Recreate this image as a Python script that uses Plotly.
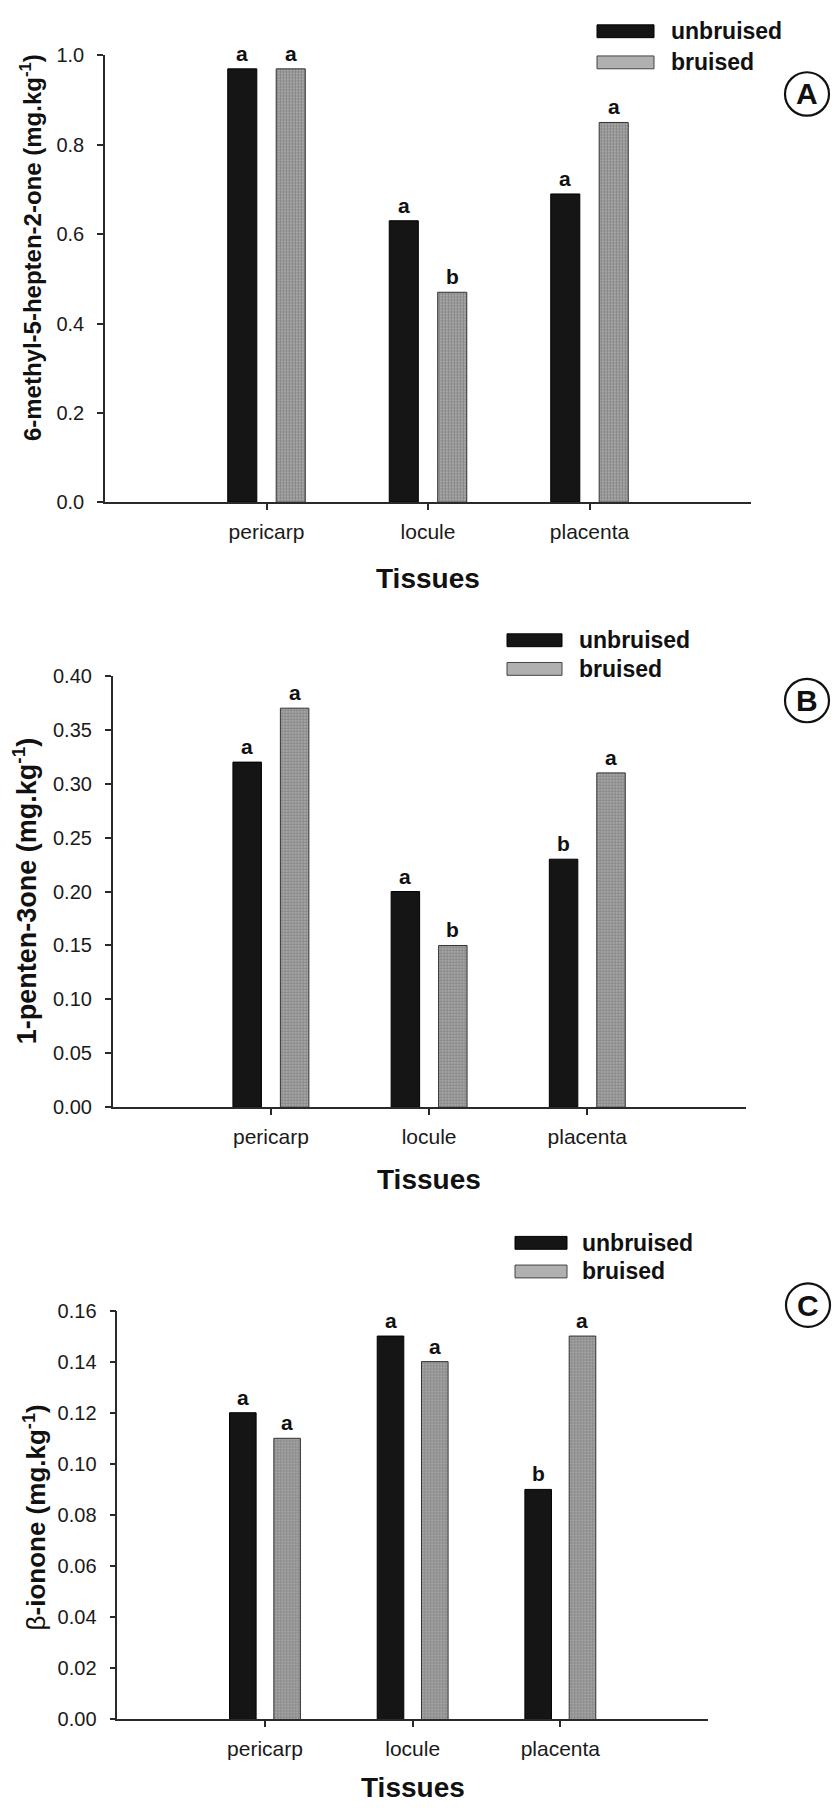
import plotly.graph_objects as go

W, H = 832, 1809
FONT = "Liberation Sans, Arial, Helvetica, sans-serif"

# ---------------- data ----------------
tissues = ["pericarp", "locule", "placenta"]
series_names = ["unbruised", "bruised"]

a_unbruised = [0.97, 0.63, 0.69]
a_bruised = [0.97, 0.47, 0.85]
a_letters_unbruised = ["a", "a", "a"]
a_letters_bruised = ["a", "b", "a"]
a_ticks = [0.0, 0.2, 0.4, 0.6, 0.8, 1.0]
a_ylabel = "<b>6-methyl-5-hepten-2-one (mg.kg<sup>-1</sup>)</b>"

b_unbruised = [0.32, 0.20, 0.23]
b_bruised = [0.37, 0.15, 0.31]
b_letters_unbruised = ["a", "a", "b"]
b_letters_bruised = ["a", "b", "a"]
b_ticks = [0.00, 0.05, 0.10, 0.15, 0.20, 0.25, 0.30, 0.35, 0.40]
b_ylabel = "<b>1-penten-3one (mg.kg<sup>-1</sup>)</b>"

c_unbruised = [0.12, 0.15, 0.09]
c_bruised = [0.11, 0.14, 0.15]
c_letters_unbruised = ["a", "a", "b"]
c_letters_bruised = ["a", "a", "a"]
c_ticks = [0.00, 0.02, 0.04, 0.06, 0.08, 0.10, 0.12, 0.14, 0.16]
c_ylabel = "β<b>-ionone (mg.kg<sup>-1</sup>)</b>"

x_title = "Tissues"
panel_tags = ["A", "B", "C"]

# ---------------- geometry (pixels) ----------------
def px(x):
    return x / W


def py(y):
    return 1 - y / H


panels = [
    dict(unb=a_unbruised, bru=a_bruised, lu=a_letters_unbruised, lb=a_letters_bruised,
         ticks=a_ticks, fmt="{:.1f}", ylabel=a_ylabel, tag=panel_tags[0],
         x0=105, x1=751, ytop=45, ybot=497.3, title_x=31, title_y=240, title_size=24,
         tiss_y=574, leg_sw=(597, 654), leg_y=(20.5, 52), leg_tx=669,
         circ=(807, 84)),
    dict(unb=b_unbruised, bru=b_bruised, lu=b_letters_unbruised, lb=b_letters_bruised,
         ticks=b_ticks, fmt="{:.2f}", ylabel=b_ylabel, tag=panel_tags[1],
         x0=112.7, x1=745.5, ytop=673, ybot=1109.8, title_x=25, title_y=891, title_size=27,
         tiss_y=1183, leg_sw=(507, 562), leg_y=(637, 666), leg_tx=577,
         circ=(807, 698)),
    dict(unb=c_unbruised, bru=c_bruised, lu=c_letters_unbruised, lb=c_letters_bruised,
         ticks=c_ticks, fmt="{:.2f}", ylabel=c_ylabel, tag=panel_tags[2],
         x0=117.3, x1=708, ytop=1315.5, ybot=1729.5, title_x=35, title_y=1525, title_size=26,
         tiss_y=1798, leg_sw=(515, 567), leg_y=(1247, 1276), leg_tx=580,
         circ=(808, 1310)),
]

BAR_W = 0.18
OFFS = [-0.24, 0.06]
DARK = "#151515"
AXC = "#2a2a2a"
GRAY_BG = "#e2e2e2"
GRAY_FG = "#333333"
GRAY_SWATCH = "#b0b0b0"

fig = go.Figure()
shapes = []
annotations = []

for k, p in enumerate(panels):
    s = "" if k == 0 else str(k + 1)
    xa, ya = "x" + s, "y" + s

    fig.add_trace(go.Bar(
        x=tissues, y=p["unb"], name=series_names[0], width=BAR_W, offset=OFFS[0],
        marker=dict(color=DARK, line=dict(color="#000000", width=1)),
        xaxis=xa, yaxis=ya, showlegend=False))
    fig.add_trace(go.Bar(
        x=tissues, y=p["bru"], name=series_names[1], width=BAR_W, offset=OFFS[1],
        marker=dict(color=GRAY_BG, line=dict(color="#333333", width=1),
                    pattern=dict(shape=".", fgcolor=GRAY_FG, size=3, solidity=0.8,
                                 fillmode="overlay")),
        xaxis=xa, yaxis=ya, showlegend=False))

    top = p["ticks"][-1]
    fig.update_layout(**{
        "xaxis" + s: dict(
            domain=[px(p["x0"]), px(p["x1"])], anchor=ya, type="category",
            categoryorder="array", categoryarray=tissues, range=[-1, 3],
            showline=True, linecolor=AXC, linewidth=1.5, ticks="outside", ticklen=6,
            tickwidth=1.5, tickcolor=AXC, showgrid=False, zeroline=False,
            tickfont=dict(family=FONT, size=21, color="#1a1a1a"), ticklabelstandoff=4,
            fixedrange=True),
        "yaxis" + s: dict(
            domain=[py(p["ybot"]), py(p["ytop"])], anchor=xa, range=[0, top],
            tickvals=p["ticks"], ticktext=[p["fmt"].format(v) for v in p["ticks"]],
            showline=True, linecolor=AXC, linewidth=1.5, ticks="outside", ticklen=6,
            tickwidth=1.5, tickcolor=AXC, showgrid=False, zeroline=False,
            tickfont=dict(family=FONT, size=20, color="#1a1a1a"), ticklabelstandoff=9,
            fixedrange=True),
    })

    # significance letters
    for series_vals, letters, off in ((p["unb"], p["lu"], OFFS[0]), (p["bru"], p["lb"], OFFS[1])):
        for i, (v, t) in enumerate(zip(series_vals, letters)):
            annotations.append(dict(
                xref=xa, yref=ya, x=i + off + BAR_W / 2, y=v, text="<b>%s</b>" % t,
                showarrow=False, xanchor="center", yanchor="bottom", yshift=2,
                font=dict(family=FONT, size=21, color="#111111")))

    # y title
    annotations.append(dict(
        xref="paper", yref="paper", x=px(p["title_x"]), y=py(p["title_y"]),
        text=p["ylabel"], textangle=-90, showarrow=False, xanchor="center", yanchor="middle",
        font=dict(family=FONT, size=p["title_size"], color="#111111")))

    # x title
    annotations.append(dict(
        xref="paper", yref="paper", x=px((p["x0"] + p["x1"]) / 2), y=py(p["tiss_y"]),
        text="<b>%s</b>" % x_title, showarrow=False, xanchor="center", yanchor="middle",
        font=dict(family=FONT, size=28, color="#111111")))

    # legend
    sx0, sx1 = p["leg_sw"]
    for j, (nm, yc) in enumerate(zip(series_names, p["leg_y"])):
        shapes.append(dict(
            type="rect", xref="paper", yref="paper",
            x0=px(sx0), x1=px(sx1), y0=py(yc + 6.5), y1=py(yc - 6.5),
            fillcolor=DARK if j == 0 else GRAY_SWATCH,
            line=dict(color="#000000" if j == 0 else "#444444", width=1)))
        annotations.append(dict(
            xref="paper", yref="paper", x=px(p["leg_tx"]), y=py(yc),
            text="<b>%s</b>" % nm, showarrow=False, xanchor="left", yanchor="middle",
            font=dict(family=FONT, size=23, color="#111111")))

    # panel tag in circle
    cx, cy = p["circ"]
    r = 22
    shapes.append(dict(
        type="circle", xref="paper", yref="paper",
        x0=px(cx - r), x1=px(cx + r), y0=py(cy + r), y1=py(cy - r),
        line=dict(color="#111111", width=2.2)))
    annotations.append(dict(
        xref="paper", yref="paper", x=px(cx), y=py(cy), text="<b>%s</b>" % p["tag"],
        showarrow=False, xanchor="center", yanchor="middle",
        font=dict(family=FONT, size=30, color="#111111")))

fig.update_layout(
    width=W, height=H, autosize=False,
    margin=dict(l=0, r=0, t=0, b=0),
    paper_bgcolor="white", plot_bgcolor="white",
    barmode="overlay", showlegend=False,
    shapes=shapes, annotations=annotations,
    font=dict(family=FONT, color="#111111"),
)

fig.write_html(
    "out.html",
    config={"displayModeBar": False},
    post_script="document.body.style.margin='0';document.body.style.overflow='hidden';",
)
